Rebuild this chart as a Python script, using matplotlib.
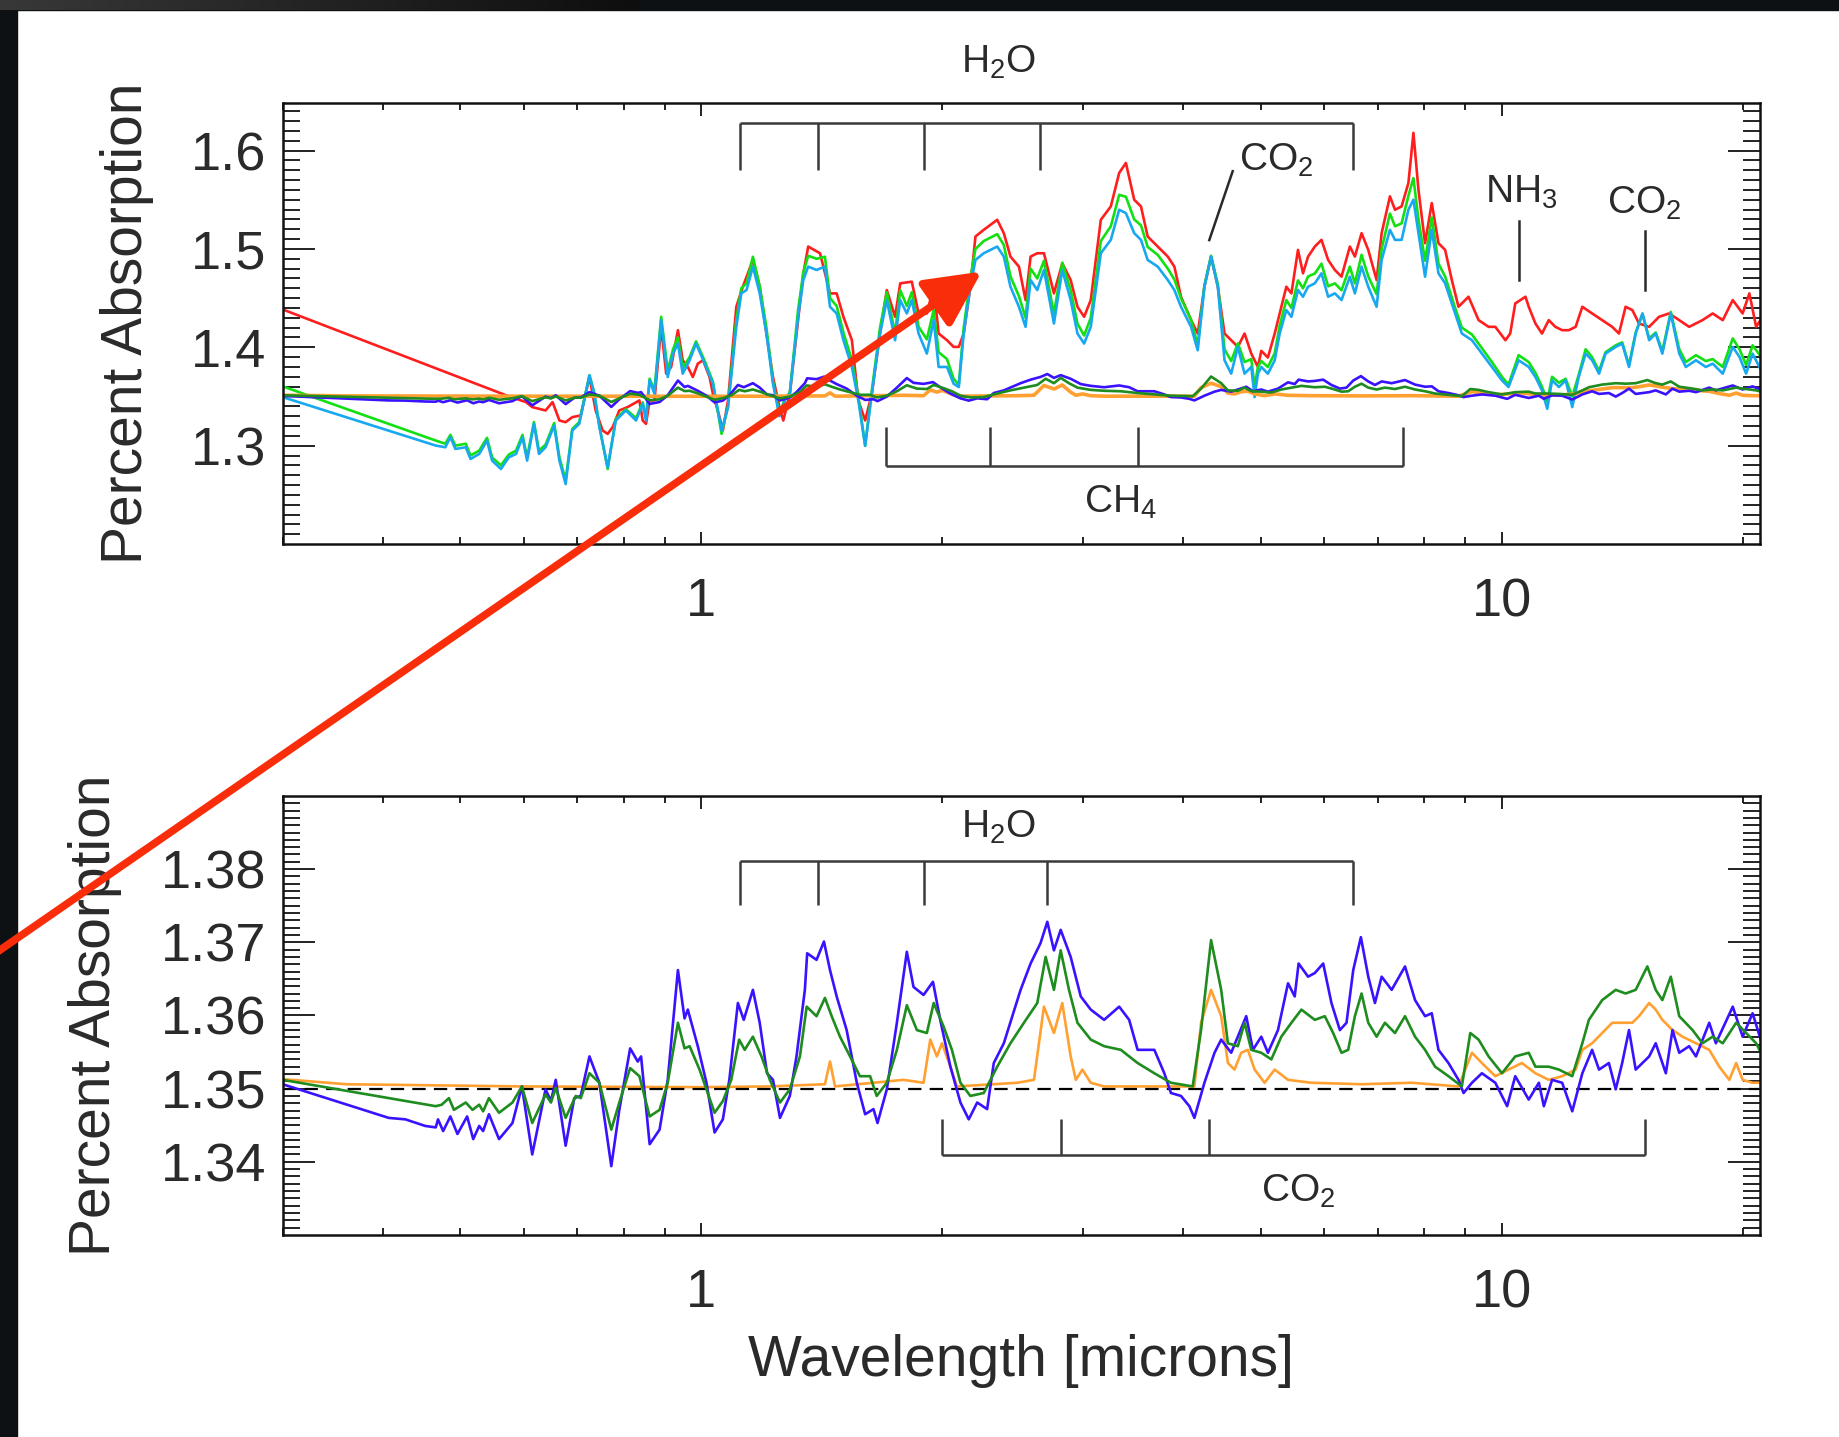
import numpy as np
import matplotlib
matplotlib.use("Agg")
import matplotlib.pyplot as plt
from matplotlib.ticker import FixedLocator, LogLocator, NullFormatter, FuncFormatter
from matplotlib.patches import Rectangle

plt.rcParams['font.family'] = ['Liberation Sans', 'DejaVu Sans']
plt.rcParams['mathtext.default'] = 'regular'

# ---------------- data (wavelength in microns, percent absorption) ----------------
# upper curves of the top panel
red_wl = [0.300, 0.575, 0.604, 0.615, 0.639, 0.652, 0.665, 0.677, 0.690, 0.707, 0.725, 0.738, 0.753, 0.764,
          0.775, 0.790, 0.809, 0.837, 0.845, 0.853, 0.862, 0.874, 0.891, 0.904, 0.917, 0.935, 0.948, 0.962,
          0.976, 0.990, 1.005, 1.024, 1.034, 1.054, 1.064, 1.080, 1.106, 1.127, 1.160, 1.183, 1.206, 1.229,
          1.252, 1.266, 1.290, 1.341, 1.360, 1.407, 1.448, 1.476, 1.505, 1.542, 1.571, 1.602, 1.633, 1.672,
          1.705, 1.746, 1.772, 1.832, 1.868, 1.913, 1.951, 1.979, 2.027, 2.066, 2.097, 2.127, 2.168, 2.200,
          2.253, 2.342, 2.387, 2.433, 2.493, 2.541, 2.578, 2.628, 2.679, 2.757, 2.824, 2.893, 2.950, 3.007,
          3.065, 3.155, 3.247, 3.326, 3.391, 3.473, 3.541, 3.610, 3.716, 3.825, 3.898, 3.973, 4.090, 4.169,
          4.250, 4.332, 4.417, 4.503, 4.590, 4.679, 4.770, 4.863, 4.957, 5.005, 5.101, 5.202, 5.277, 5.379,
          5.458, 5.562, 5.643, 5.726, 5.838, 5.951, 6.066, 6.184, 6.304, 6.457, 6.551, 6.678, 6.808, 6.973,
          7.075, 7.246, 7.352, 7.493, 7.641, 7.752, 7.865, 8.016, 8.172, 8.331, 8.492, 8.657, 8.825, 9.083,
          9.350, 9.623, 9.810, 10.10, 10.24, 10.39, 10.70, 10.80, 11.01, 11.22, 11.44, 11.66, 11.89, 12.12,
          12.36, 12.60, 12.96, 13.34, 13.73, 14.00, 14.27, 14.55, 14.83, 15.27, 15.71, 16.17, 16.65, 17.13,
          17.80, 18.33, 18.87, 19.42, 19.98, 20.37, 20.77, 21.17]
red_val = [1.4385, 1.3501, 1.3443, 1.3392, 1.3358, 1.3443, 1.3256, 1.3239, 1.3290, 1.3307, 1.3698, 1.3358,
           1.3154, 1.3120, 1.3188, 1.3358, 1.3392, 1.3460, 1.3256, 1.3222, 1.3460, 1.3460, 1.4208, 1.3732,
           1.3800, 1.4174, 1.3868, 1.3800, 1.3698, 1.3834, 1.3868, 1.3698, 1.3528, 1.3290, 1.3154, 1.3460,
           1.4412, 1.4616, 1.4888, 1.4616, 1.4140, 1.3698, 1.3392, 1.3256, 1.3528, 1.4752, 1.5024, 1.4956,
           1.4548, 1.4548, 1.4310, 1.4072, 1.3460, 1.3256, 1.3528, 1.4140, 1.4582, 1.4310, 1.4650, 1.4667,
           1.4344, 1.4344, 1.4616, 1.4140, 1.4072, 1.4004, 1.4004, 1.4140, 1.4616, 1.5126, 1.5194, 1.5296,
           1.5160, 1.4922, 1.4820, 1.4480, 1.4922, 1.4956, 1.4956, 1.4548, 1.4854, 1.4684, 1.4412, 1.4310,
           1.4480, 1.5296, 1.5432, 1.5772, 1.5874, 1.5500, 1.5432, 1.5126, 1.5024, 1.4922, 1.4820, 1.4514,
           1.4276, 1.4140, 1.4616, 1.4922, 1.4616, 1.4140, 1.4072, 1.4004, 1.4140, 1.3936, 1.3800, 1.3964,
           1.3896, 1.4140, 1.4344, 1.4616, 1.4548, 1.4990, 1.4752, 1.4922, 1.5024, 1.5092, 1.4888, 1.4786,
           1.4718, 1.5024, 1.4922, 1.5160, 1.4990, 1.4684, 1.5160, 1.5534, 1.5398, 1.5432, 1.5670, 1.6180,
           1.5602, 1.5058, 1.5466, 1.5058, 1.4990, 1.4684, 1.4412, 1.4514, 1.4276, 1.4208, 1.4208, 1.4072,
           1.4140, 1.4446, 1.4514, 1.4412, 1.4242, 1.4140, 1.4276, 1.4208, 1.4174, 1.4174, 1.4208, 1.4412,
           1.4344, 1.4276, 1.4208, 1.4140, 1.4412, 1.4378, 1.4242, 1.4208, 1.4310, 1.4344, 1.4276, 1.4208,
           1.4276, 1.4344, 1.4276, 1.4480, 1.4344, 1.4548, 1.4208, 1.4310]

# light green and light blue share one wavelength grid
model_wl = [0.300, 0.466, 0.479, 0.486, 0.493, 0.508, 0.515, 0.528, 0.540, 0.548, 0.562, 0.575, 0.587, 0.598,
            0.606, 0.618, 0.627, 0.639, 0.655, 0.665, 0.677, 0.690, 0.704, 0.725, 0.735, 0.746, 0.764, 0.782,
            0.805, 0.829, 0.845, 0.853, 0.862, 0.874, 0.891, 0.908, 0.922, 0.935, 0.948, 0.967, 0.985, 1.010,
            1.034, 1.060, 1.080, 1.106, 1.122, 1.139, 1.160, 1.183, 1.206, 1.229, 1.252, 1.272, 1.290, 1.321,
            1.341, 1.360, 1.393, 1.427, 1.448, 1.476, 1.505, 1.542, 1.571, 1.602, 1.633, 1.672, 1.705, 1.746,
            1.772, 1.806, 1.832, 1.868, 1.913, 1.951, 1.979, 2.027, 2.066, 2.097, 2.127, 2.168, 2.200, 2.253,
            2.342, 2.387, 2.433, 2.493, 2.541, 2.578, 2.628, 2.679, 2.757, 2.824, 2.893, 2.950, 3.007, 3.065,
            3.155, 3.247, 3.326, 3.391, 3.473, 3.541, 3.610, 3.716, 3.825, 3.898, 3.973, 4.090, 4.169, 4.250,
            4.332, 4.417, 4.503, 4.590, 4.679, 4.770, 4.863, 4.910, 4.957, 5.005, 5.101, 5.202, 5.277, 5.379,
            5.458, 5.562, 5.643, 5.726, 5.838, 5.951, 6.066, 6.184, 6.304, 6.457, 6.551, 6.678, 6.808, 6.973,
            7.075, 7.246, 7.352, 7.493, 7.641, 7.752, 7.865, 8.016, 8.172, 8.331, 8.492, 8.740, 8.910, 9.173,
            9.439, 9.716, 10.00, 10.19, 10.49, 10.80, 11.01, 11.22, 11.39, 11.55, 11.78, 12.01, 12.24, 12.47,
            12.72, 12.96, 13.22, 13.47, 13.87, 14.13, 14.41, 14.69, 14.98, 15.27, 15.56, 15.86, 16.25, 16.65,
            16.97, 17.47, 17.97, 18.33, 18.87, 19.42, 19.80, 20.18, 20.56, 21.17]
cyan_val = [1.3494, 1.3001, 1.2984, 1.3086, 1.2967, 1.2984, 1.2865, 1.2916, 1.3052, 1.2848, 1.2763, 1.2882,
            1.2916, 1.3086, 1.2848, 1.3222, 1.2916, 1.2984, 1.3205, 1.2848, 1.2610, 1.3154, 1.3222, 1.3715,
            1.3528, 1.3188, 1.2780, 1.3256, 1.3358, 1.3256, 1.3426, 1.3256, 1.3664, 1.3528, 1.4276, 1.3698,
            1.3936, 1.4038, 1.3732, 1.3868, 1.4038, 1.3834, 1.3630, 1.3154, 1.3392, 1.4208, 1.4548, 1.4582,
            1.4820, 1.4548, 1.4140, 1.3630, 1.3300, 1.3460, 1.3528, 1.4310, 1.4684, 1.4820, 1.4786, 1.4820,
            1.4412, 1.4344, 1.4072, 1.3800, 1.3460, 1.2998, 1.3528, 1.4140, 1.4480, 1.4072, 1.4480, 1.4344,
            1.4480, 1.4140, 1.3936, 1.4276, 1.3800, 1.3800, 1.3630, 1.3596, 1.4140, 1.4616, 1.4888, 1.4956,
            1.5024, 1.4922, 1.4616, 1.4412, 1.4208, 1.4684, 1.4582, 1.4786, 1.4242, 1.4786, 1.4480, 1.4140,
            1.4038, 1.4208, 1.4956, 1.5092, 1.5398, 1.5364, 1.5160, 1.5092, 1.4888, 1.4820, 1.4684, 1.4582,
            1.4412, 1.4208, 1.3970, 1.4616, 1.4922, 1.4616, 1.3868, 1.3732, 1.4004, 1.3732, 1.3800, 1.3494,
            1.3732, 1.3800, 1.3732, 1.3868, 1.4140, 1.4378, 1.4310, 1.4582, 1.4514, 1.4616, 1.4650, 1.4752,
            1.4514, 1.4548, 1.4480, 1.4718, 1.4548, 1.4820, 1.4616, 1.4412, 1.4888, 1.5194, 1.5092, 1.5092,
            1.5398, 1.5500, 1.5160, 1.4718, 1.5194, 1.4752, 1.4650, 1.4344, 1.4140, 1.4072, 1.3936, 1.3800,
            1.3664, 1.3596, 1.3868, 1.3800, 1.3698, 1.3562, 1.3375, 1.3664, 1.3596, 1.3664, 1.3392, 1.3698,
            1.3936, 1.3868, 1.3732, 1.3936, 1.4004, 1.4038, 1.3800, 1.4140, 1.4344, 1.4072, 1.4140, 1.3936,
            1.4344, 1.3936, 1.3800, 1.3868, 1.3800, 1.3834, 1.3732, 1.4004, 1.3902, 1.3732, 1.3936, 1.3732]
green_val = [1.3603, 1.3052, 1.3020, 1.3110, 1.3000, 1.3020, 1.2900, 1.2950, 1.3080, 1.2880, 1.2800, 1.2910,
             1.2950, 1.3110, 1.2880, 1.3240, 1.2950, 1.3010, 1.3230, 1.2880, 1.2650, 1.3170, 1.3240, 1.3715,
             1.3540, 1.3200, 1.2763, 1.3270, 1.3370, 1.3280, 1.3440, 1.3280, 1.3680, 1.3560, 1.4310, 1.3760,
             1.3980, 1.4100, 1.3790, 1.3900, 1.4060, 1.3860, 1.3650, 1.3120, 1.3400, 1.4280, 1.4600, 1.4650,
             1.4920, 1.4620, 1.4200, 1.3650, 1.3320, 1.3480, 1.3540, 1.4380, 1.4760, 1.4930, 1.4900, 1.4920,
             1.4500, 1.4420, 1.4150, 1.3870, 1.3500, 1.3000, 1.3560, 1.4200, 1.4560, 1.4140, 1.4580, 1.4420,
             1.4560, 1.4210, 1.4080, 1.4380, 1.3950, 1.3880, 1.3680, 1.3620, 1.4200, 1.4700, 1.5000, 1.5080,
             1.5150, 1.5040, 1.4720, 1.4520, 1.4300, 1.4800, 1.4700, 1.4880, 1.4340, 1.4860, 1.4580, 1.4240,
             1.4120, 1.4300, 1.5080, 1.5230, 1.5550, 1.5530, 1.5300, 1.5240, 1.5020, 1.4940, 1.4800, 1.4690,
             1.4500, 1.4280, 1.4020, 1.4630, 1.4930, 1.4640, 1.3980, 1.3860, 1.4040, 1.3850, 1.3880, 1.3600,
             1.3800, 1.3860, 1.3800, 1.3940, 1.4220, 1.4480, 1.4400, 1.4680, 1.4600, 1.4720, 1.4750, 1.4850,
             1.4620, 1.4650, 1.4580, 1.4820, 1.4650, 1.4940, 1.4720, 1.4540, 1.5000, 1.5360, 1.5230, 1.5260,
             1.5540, 1.5720, 1.5300, 1.4880, 1.5320, 1.4850, 1.4720, 1.4400, 1.4200, 1.4130, 1.3990, 1.3850,
             1.3700, 1.3620, 1.3920, 1.3850, 1.3740, 1.3600, 1.3450, 1.3700, 1.3640, 1.3680, 1.3500, 1.3720,
             1.3980, 1.3900, 1.3760, 1.3950, 1.4020, 1.4050, 1.3820, 1.4150, 1.4340, 1.4090, 1.4150, 1.3960,
             1.4360, 1.3980, 1.3850, 1.3920, 1.3860, 1.3880, 1.3800, 1.4090, 1.3980, 1.3820, 1.4020, 1.3880]

# lower curves (shown in both panels)
blue_wl = [0.300, 0.407, 0.427, 0.452, 0.466, 0.469, 0.476, 0.486, 0.496, 0.510, 0.519, 0.528, 0.534, 0.543,
           0.559, 0.581, 0.597, 0.615, 0.639, 0.649, 0.658, 0.677, 0.694, 0.707, 0.725, 0.746, 0.772, 0.790,
           0.815, 0.833, 0.841, 0.862, 0.887, 0.908, 0.935, 0.953, 0.962, 0.990, 1.015, 1.039, 1.064, 1.084,
           1.111, 1.130, 1.160, 1.183, 1.208, 1.229, 1.254, 1.290, 1.315, 1.347, 1.356, 1.393, 1.423, 1.448,
           1.476, 1.519, 1.564, 1.602, 1.641, 1.660, 1.705, 1.755, 1.806, 1.841, 1.895, 1.947, 1.988, 2.047,
           2.107, 2.158, 2.211, 2.275, 2.319, 2.387, 2.505, 2.578, 2.653, 2.705, 2.757, 2.811, 2.893, 2.978,
           3.065, 3.185, 3.326, 3.423, 3.507, 3.680, 3.787, 3.860, 3.973, 4.070, 4.129, 4.250, 4.375, 4.460,
           4.590, 4.793, 4.886, 5.005, 5.101, 5.251, 5.405, 5.510, 5.572, 5.726, 5.838, 5.980, 6.124, 6.274,
           6.395, 6.520, 6.665, 6.808, 6.940, 7.075, 7.282, 7.567, 7.788, 8.016, 8.172, 8.331, 8.574, 8.825,
           8.954, 9.173, 9.439, 9.810, 10.15, 10.39, 10.80, 11.12, 11.28, 11.55, 11.89, 12.24, 12.60, 12.96,
           13.22, 13.60, 13.87, 14.13, 14.41, 14.69, 15.27, 15.56, 16.02, 16.33, 16.65, 17.13, 17.47, 18.15,
           18.50, 19.42, 19.98, 20.56, 21.17]
blue_val = [1.3506, 1.3460, 1.3458, 1.3449, 1.3447, 1.3458, 1.3442, 1.3462, 1.3438, 1.3462, 1.3431, 1.3449,
            1.3442, 1.3465, 1.3431, 1.3453, 1.3503, 1.3410, 1.3499, 1.3483, 1.3512, 1.3422, 1.3487, 1.3490,
            1.3544, 1.3508, 1.3394, 1.3471, 1.3555, 1.3537, 1.3544, 1.3424, 1.3444, 1.3512, 1.3662, 1.3596,
            1.3608, 1.3558, 1.3508, 1.3440, 1.3458, 1.3512, 1.3617, 1.3594, 1.3635, 1.3590, 1.3521, 1.3512,
            1.3460, 1.3490, 1.3544, 1.3635, 1.3685, 1.3676, 1.3701, 1.3662, 1.3626, 1.3580, 1.3508, 1.3465,
            1.3472, 1.3453, 1.3499, 1.3590, 1.3687, 1.3639, 1.3628, 1.3646, 1.3594, 1.3530, 1.3481, 1.3458,
            1.3481, 1.3472, 1.3535, 1.3562, 1.3635, 1.3671, 1.3699, 1.3728, 1.3689, 1.3717, 1.3680, 1.3626,
            1.3608, 1.3594, 1.3612, 1.3594, 1.3553, 1.3553, 1.3521, 1.3494, 1.3490, 1.3476, 1.3460, 1.3508,
            1.3549, 1.3567, 1.3549, 1.3599, 1.3553, 1.3571, 1.3549, 1.3580, 1.3644, 1.3626, 1.3671, 1.3653,
            1.3658, 1.3671, 1.3617, 1.3580, 1.3590, 1.3662, 1.3707, 1.3653, 1.3617, 1.3653, 1.3635, 1.3667,
            1.3621, 1.3599, 1.3603, 1.3553, 1.3535, 1.3512, 1.3494, 1.3508, 1.3521, 1.3508, 1.3476, 1.3517,
            1.3485, 1.3508, 1.3476, 1.3512, 1.3508, 1.3469, 1.3521, 1.3553, 1.3526, 1.3535, 1.3499, 1.3535,
            1.3580, 1.3526, 1.3544, 1.3562, 1.3521, 1.3580, 1.3549, 1.3558, 1.3544, 1.3590, 1.3562, 1.3612,
            1.3571, 1.3603, 1.3558]

dkgreen_wl = [0.300, 0.466, 0.474, 0.484, 0.491, 0.508, 0.518, 0.528, 0.534, 0.543, 0.559, 0.581, 0.597, 0.615,
              0.639, 0.649, 0.658, 0.677, 0.697, 0.707, 0.725, 0.746, 0.772, 0.790, 0.815, 0.837, 0.862, 0.887,
              0.908, 0.935, 0.953, 0.967, 0.995, 1.015, 1.039, 1.064, 1.090, 1.115, 1.133, 1.160, 1.189, 1.218,
              1.254, 1.290, 1.328, 1.354, 1.393, 1.427, 1.455, 1.490, 1.534, 1.578, 1.625, 1.656, 1.705, 1.755,
              1.806, 1.859, 1.913, 1.951, 2.007, 2.056, 2.107, 2.168, 2.253, 2.342, 2.433, 2.529, 2.628, 2.692,
              2.757, 2.811, 2.879, 2.950, 3.065, 3.185, 3.342, 3.507, 3.680, 3.860, 4.109, 4.209, 4.332, 4.460,
              4.547, 4.679, 4.770, 4.863, 5.005, 5.152, 5.302, 5.458, 5.617, 5.838, 6.008, 6.154, 6.304, 6.426,
              6.551, 6.678, 6.808, 6.973, 7.142, 7.352, 7.567, 7.788, 8.016, 8.251, 8.574, 8.910, 9.129, 9.350,
              9.623, 10.00, 10.39, 10.80, 11.01, 11.44, 11.78, 12.24, 12.60, 12.84, 13.34, 13.87, 14.27, 14.69,
              15.19, 15.56, 15.86, 16.25, 16.65, 17.30, 17.80, 18.33, 18.87, 19.61, 20.18, 20.77, 21.17]
dkgreen_val = [1.3512, 1.3476, 1.3478, 1.3487, 1.3471, 1.3481, 1.3471, 1.3478, 1.3469, 1.3487, 1.3467, 1.3481,
               1.3503, 1.3453, 1.3492, 1.3481, 1.3501, 1.3460, 1.3490, 1.3487, 1.3521, 1.3508, 1.3444, 1.3481,
               1.3528, 1.3517, 1.3462, 1.3471, 1.3508, 1.3590, 1.3555, 1.3558, 1.3526, 1.3499, 1.3467, 1.3483,
               1.3512, 1.3567, 1.3553, 1.3571, 1.3544, 1.3512, 1.3481, 1.3499, 1.3544, 1.3612, 1.3599, 1.3624,
               1.3599, 1.3571, 1.3544, 1.3517, 1.3517, 1.3490, 1.3508, 1.3553, 1.3614, 1.3580, 1.3576, 1.3617,
               1.3585, 1.3553, 1.3508, 1.3490, 1.3494, 1.3530, 1.3562, 1.3590, 1.3617, 1.3680, 1.3635, 1.3689,
               1.3635, 1.3590, 1.3567, 1.3558, 1.3553, 1.3535, 1.3521, 1.3508, 1.3503, 1.3580, 1.3703, 1.3635,
               1.3562, 1.3558, 1.3590, 1.3553, 1.3549, 1.3540, 1.3571, 1.3590, 1.3608, 1.3594, 1.3599, 1.3576,
               1.3549, 1.3553, 1.3599, 1.3630, 1.3590, 1.3571, 1.3590, 1.3576, 1.3599, 1.3571, 1.3553, 1.3530,
               1.3517, 1.3503, 1.3576, 1.3567, 1.3544, 1.3521, 1.3544, 1.3549, 1.3530, 1.3530, 1.3526, 1.3517,
               1.3562, 1.3594, 1.3621, 1.3635, 1.3630, 1.3635, 1.3667, 1.3635, 1.3621, 1.3653, 1.3599, 1.3580,
               1.3562, 1.3571, 1.3562, 1.3590, 1.3576, 1.3562, 1.3544]

orange_wl = [0.300, 0.360, 0.600, 1.000, 1.218, 1.427, 1.448, 1.469, 1.789, 1.895, 1.932, 1.969, 1.998, 2.047,
             2.086, 2.481, 2.603, 2.679, 2.757, 2.824, 2.893, 2.936, 2.992, 3.065, 3.185, 4.129, 4.209, 4.332,
             4.460, 4.547, 4.634, 4.724, 4.816, 4.910, 5.053, 5.202, 5.405, 5.781, 6.678, 7.715, 8.825, 9.173,
             9.439, 9.810, 10.19, 10.59, 11.01, 11.44, 11.89, 12.36, 12.60, 12.96, 13.34, 13.73, 14.13, 14.55,
             14.83, 15.27, 15.56, 15.86, 16.33, 16.81, 17.47, 18.15, 18.68, 19.23, 19.61, 19.98, 20.56, 21.17]
orange_val = [1.3513, 1.3506, 1.3503, 1.3502, 1.3503, 1.3506, 1.3537, 1.3503, 1.3512, 1.3508, 1.3567, 1.3544,
              1.3562, 1.3530, 1.3503, 1.3508, 1.3512, 1.3612, 1.3576, 1.3617, 1.3544, 1.3512, 1.3526, 1.3508,
              1.3503, 1.3503, 1.3590, 1.3635, 1.3599, 1.3535, 1.3526, 1.3549, 1.3553, 1.3526, 1.3508, 1.3526,
              1.3512, 1.3508, 1.3506, 1.3508, 1.3503, 1.3549, 1.3535, 1.3517, 1.3526, 1.3535, 1.3521, 1.3512,
              1.3517, 1.3526, 1.3553, 1.3562, 1.3576, 1.3590, 1.3590, 1.3590, 1.3599, 1.3617, 1.3608, 1.3594,
              1.3580, 1.3571, 1.3562, 1.3553, 1.3530, 1.3512, 1.3535, 1.3512, 1.3508, 1.3508]

# band markers
h2o_top = [1.117, 1.400, 1.895, 2.648, 6.52]
h2o_bot = [1.117, 1.400, 1.895, 2.70, 6.52]
ch4_bands = [1.702, 2.297, 3.507, 7.53]
co2_bands = [2.001, 2.811, 4.311, 15.08]

TXT = '#2a2a2a'
LINE = '#3a3a3a'
C_RED, C_GREEN, C_CYAN = '#ff1e1e', '#12e012', '#18a8f0'
C_BLUE, C_DKGREEN, C_ORANGE = '#3a12ff', '#1e8c1e', '#ffa030'


def style_axes(ax, ylim, yticks, yminor):
    ax.set_xscale('log')
    ax.set_xlim(0.3, 21)
    ax.set_ylim(*ylim)
    ax.xaxis.set_major_locator(FixedLocator([1, 10]))
    ax.xaxis.set_major_formatter(FuncFormatter(lambda v, p: '%d' % round(v)))
    ax.xaxis.set_minor_locator(LogLocator(base=10, subs=np.arange(2, 10), numticks=50))
    ax.xaxis.set_minor_formatter(NullFormatter())
    ax.yaxis.set_major_locator(FixedLocator(yticks))
    ax.yaxis.set_minor_locator(FixedLocator(yminor))
    ax.tick_params(axis='both', which='both', direction='in', top=True, right=True,
                   colors='#111111', labelcolor=TXT, width=1.3)
    ax.tick_params(axis='y', which='major', length=23, pad=12, labelsize=39)
    ax.tick_params(axis='y', which='minor', length=12)
    ax.tick_params(axis='x', which='major', length=9, pad=24, labelsize=39)
    ax.tick_params(axis='x', which='minor', length=5)
    for s in ax.spines.values():
        s.set_linewidth(1.8)
        s.set_color('#111111')


def bracket(ax, xs, y_bar, y_end):
    ax.plot([xs[0], xs[-1]], [y_bar, y_bar], color=LINE, lw=1.8, solid_capstyle='butt')
    for x in xs:
        ax.plot([x, x], [y_bar, y_end], color=LINE, lw=1.8, solid_capstyle='butt')


fig = plt.figure(figsize=(18.4, 14.37), dpi=100)
ax1 = fig.add_axes([0.1536, 0.6214, 0.8029, 0.3067])
ax2 = fig.add_axes([0.1536, 0.1406, 0.8029, 0.3055])
ax1.set_zorder(3)
ax2.set_zorder(2)

# dark frame left and top, a little lighter towards the top left corner
DARK = '#0e1113'
fig.add_artist(Rectangle((0, 0), 17 / 1840, 1, transform=fig.transFigure, color=DARK, zorder=1))
fig.add_artist(Rectangle((0, 1 - 10 / 1437), 1, 10 / 1437, transform=fig.transFigure, color=DARK, zorder=1))
glow = np.linspace(0.22, 0.055, 640)[None, :, None] * np.ones((10, 1, 3)) * 255
fig.figimage(glow.astype(np.uint8), xo=0, yo=1437 - 10, zorder=2)

# ---------- top panel ----------
ax1.plot(red_wl, red_val, color=C_RED, lw=1.9)
ax1.plot(model_wl, green_val, color=C_GREEN, lw=1.9)
ax1.plot(model_wl, cyan_val, color=C_CYAN, lw=1.9)
ax1.plot(orange_wl, orange_val, color=C_ORANGE, lw=2.6)
ax1.plot(blue_wl, blue_val, color=C_BLUE, lw=1.9)
ax1.plot(dkgreen_wl, dkgreen_val, color=C_DKGREEN, lw=1.9)
style_axes(ax1, (1.2, 1.648), [1.3, 1.4, 1.5, 1.6], np.arange(1.21, 1.645, 0.01))
ax1.set_ylabel('Percent Absorption', fontsize=41, color=TXT)
ax1.yaxis.set_label_coords(-0.087, 0.5)

bracket(ax1, h2o_top, 1.628, 1.580)
bracket(ax1, ch4_bands, 1.2797, 1.3188)
ax1.text(2.35, 1.690, 'H$_2$O', fontsize=28, color=TXT, ha='center', va='center', clip_on=False)
ax1.text(3.34, 1.242, 'CH$_4$', fontsize=28, color=TXT, ha='center', va='center')
ax1.text(5.23, 1.590, 'CO$_2$', fontsize=28, color=TXT, ha='center', va='center')
ax1.plot([4.61, 4.31], [1.579, 1.509], color=TXT, lw=1.8)
ax1.text(10.57, 1.558, 'NH$_3$', fontsize=28, color=TXT, ha='center', va='center')
ax1.plot([10.51, 10.51], [1.528, 1.468], color=TXT, lw=1.8)
ax1.text(15.05, 1.546, 'CO$_2$', fontsize=28, color=TXT, ha='center', va='center')
ax1.plot([15.08, 15.08], [1.518, 1.458], color=TXT, lw=1.8)

# red pointer arrow coming in from the left edge
ax1.annotate('', xy=(2.24, 1.477), xycoords='data', xytext=(-0.01, 0.330), textcoords='figure fraction',
             arrowprops=dict(arrowstyle='-|>,head_length=1.7,head_width=0.85', color='#fa2d0a', lw=5.5,
                             shrinkA=0, shrinkB=0, mutation_scale=20),
             annotation_clip=False, zorder=20)

# ---------- bottom panel ----------
ax2.plot(orange_wl, orange_val, color=C_ORANGE, lw=1.9)
ax2.axhline(1.35, color='k', lw=1.6, ls=(0, (6, 3.7)))
ax2.plot(blue_wl, blue_val, color=C_BLUE, lw=1.9)
ax2.plot(dkgreen_wl, dkgreen_val, color=C_DKGREEN, lw=1.9)
style_axes(ax2, (1.33, 1.39), [1.34, 1.35, 1.36, 1.37, 1.38], np.arange(1.331, 1.3895, 0.001))
ax2.set_ylabel('Percent Absorption', fontsize=41, color=TXT)
ax2.yaxis.set_label_coords(-0.109, 0.5)
ax2.set_xlabel('Wavelength [microns]', fontsize=41, color=TXT)
ax2.xaxis.set_label_coords(0.5, -0.225)

bracket(ax2, h2o_bot, 1.3811, 1.3751)
bracket(ax2, co2_bands, 1.3409, 1.3458)
ax2.text(2.35, 1.3857, 'H$_2$O', fontsize=28, color=TXT, ha='center', va='center')
ax2.text(5.57, 1.3360, 'CO$_2$', fontsize=28, color=TXT, ha='center', va='center')

fig.savefig('out.png', dpi=100, facecolor='white')
